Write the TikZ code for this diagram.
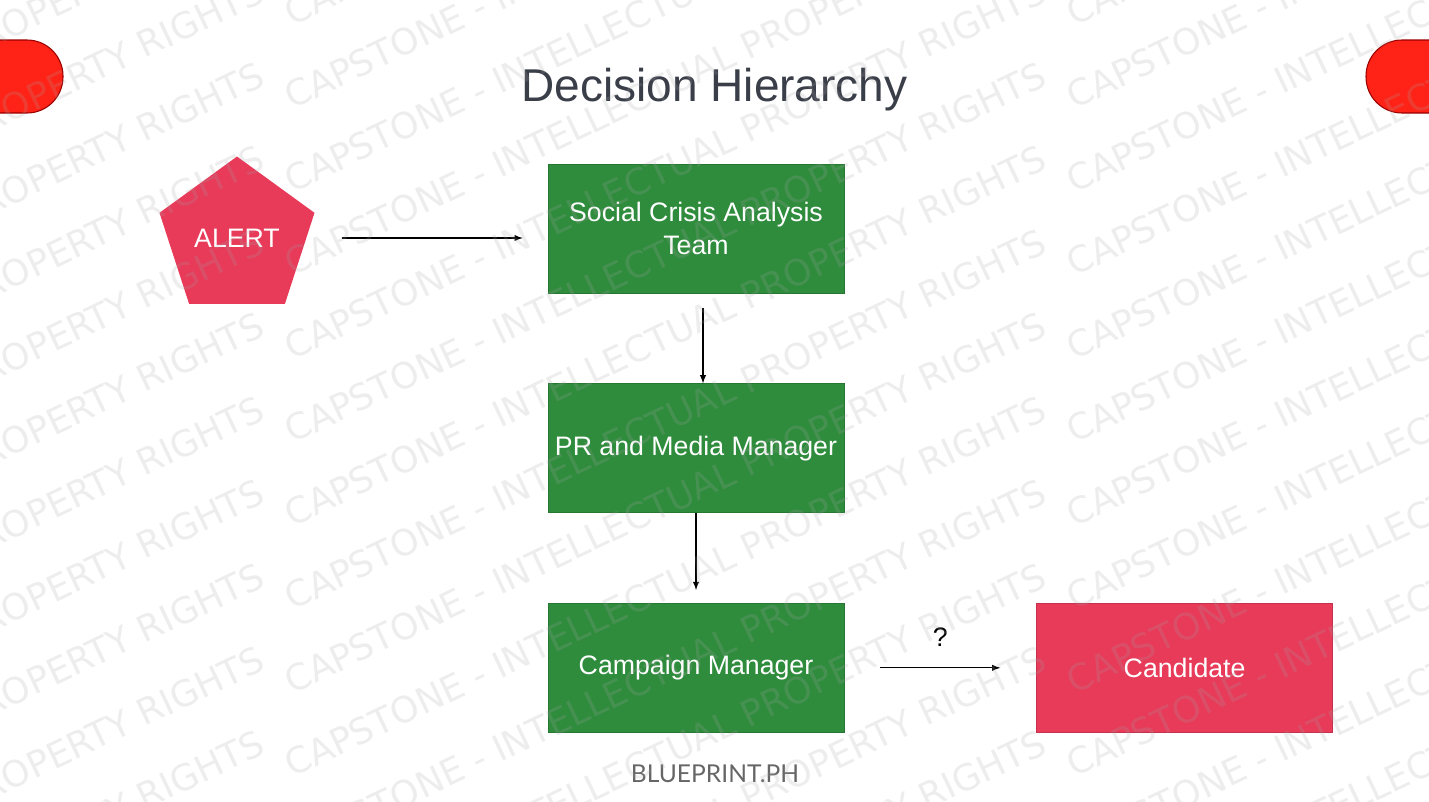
\documentclass[tikz,border=0pt]{standalone}
\usepackage{fontspec}
\setmainfont{Liberation Sans}
\newfontfamily\markfont{DejaVu Sans}
\newfontfamily\footfont{Lato}
\usetikzlibrary{positioning,shapes.geometric}
\definecolor{boxgreen}{RGB}{46,140,60}
\definecolor{alertred}{RGB}{232,58,89}
\definecolor{tabred}{RGB}{255,34,22}
\definecolor{titlegray}{RGB}{58,62,72}

\begin{document}
\begin{tikzpicture}[x=0.02cm, y=-0.02cm, node distance={1.8cm},
    role/.style = {draw=boxgreen!85!black, fill=boxgreen, text=white, minimum width=5.92cm, minimum height=2.58cm, align=center, inner sep=0pt, font=\fontsize{15.2}{18.5}\selectfont},
    target/.style = {role, draw=alertred!85!black, fill=alertred},
    tabshape/.style = {draw=red!60!black, fill=tabred, line width=0.6pt, rounded corners=0.72cm},
    link/.style = {-latex, line width=0.6pt},
    wmark/.style = {anchor=base west, rotate=25.4, inner sep=0pt, text=black!35, text opacity=0.2, font=\markfont\fontsize{20.5}{24}\selectfont}]
  \useasboundingbox (0,0) rectangle (1429,801);
  \clip (0,0) rectangle (1429,801);

  % corner tabs
  \draw[tabshape] (-80,40) rectangle (63,113);
  \draw[tabshape] (1366,40) rectangle (1510,113);

  \node[font=\fontsize{26.2}{30}\selectfont, text=titlegray, anchor=base] (title) at (714.5,101) {Decision Hierarchy};

  \node[regular polygon, regular polygon sides=5, minimum size=3.26cm, inner sep=0pt, fill=alertred, text=white, font=\fontsize{15.2}{18}\selectfont] (alert) at (237,238) {ALERT};

  \node[role] (team) at (696,228.5) {Social Crisis Analysis\\Team};
  \node[role, below=of team] (pr) {PR and Media Manager};
  \node[role, below=of pr] (campaign) {Campaign Manager};
  \node[target, right=3.84cm of campaign] (candidate) {Candidate};

  \draw[link, shorten <=0.7cm, shorten >=0.5cm] (alert.east) -- (alert.east -| team.west);
  \draw[link, shorten <=0.3cm] ([xshift=0.14cm]team.south) -- ([xshift=0.14cm]pr.north);
  \draw[link, shorten >=0.26cm] (pr.south) -- (campaign.north);
  \draw[link, shorten <=0.72cm, shorten >=0.72cm] (campaign) -- node[midway, above=0.3cm, font=\fontsize{15.2}{18}\selectfont] (ask) {?} (candidate);

  \node[font=\footfont\fontsize{14}{16}\selectfont, text=black!60, anchor=base] (footer) at (715,782) {BLUEPRINT.PH};

  % watermark
  \foreach \i [count=\c] in {-490,292,1074}
    \foreach \j in {0,...,14}
      \node[wmark] (wm\c-\j) at (\i,26.5+83.5*\j) {CAPSTONE - INTELLECTUAL PROPERTY RIGHTS};
\end{tikzpicture}
\end{document}
